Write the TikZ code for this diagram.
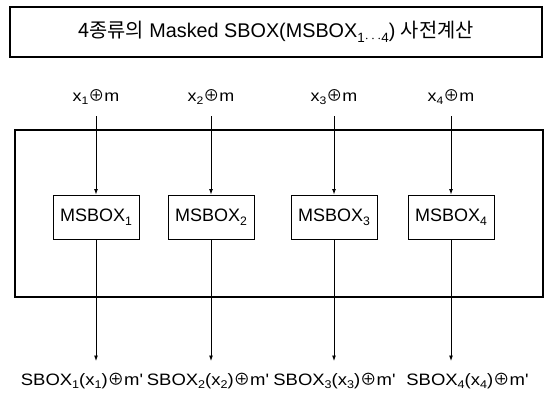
\documentclass[tikz,border=0pt]{standalone}
\usepackage{fontspec}
\usepackage{graphicx}
\setmainfont{Liberation Sans}
\newfontfamily\widefont[FakeStretch=1.12]{Liberation Sans}
\newfontfamily\krfont{Noto Sans CJK KR}
\usetikzlibrary{arrows.meta}

% full-width circled plus and lowered indices
\newcommand\oplusch{{\krfont ⊕}}
\newcommand\lowidx[1]{\raisebox{-0.45ex}{\scalebox{0.68}{#1}}}

\tikzset{
  frame/.style={draw, line width=1.1pt, inner sep=0pt},
  msbox/.style={draw, line width=1pt, minimum width=86pt, minimum height=44pt,
                inner sep=0pt, font=\fontsize{18}{21}\selectfont},
  inlabel/.style={font=\widefont\fontsize{16}{19}\selectfont, inner xsep=0pt,
                  inner ysep=0pt, text height=12pt, text depth=15pt},
  outlabel/.style={font=\widefont\fontsize{16.5}{19}\selectfont, inner sep=0pt,
                   text height=12pt, text depth=4pt},
  arr/.style={-{Latex[length=5.5pt,width=4pt]}, line width=0.9pt}
}

\begin{document}
\begin{tikzpicture}[x=1pt,y=1pt]
  \useasboundingbox (0,0) rectangle (546,-397);

  % heading box
  \node[frame, minimum width=532pt, minimum height=50pt,
        font=\fontsize{19.8}{23}\selectfont] (title) at (276,-32)
    {{\krfont 4종류의} Masked SBOX(MSBOX\lowidx{1$\cdots$4}) {\krfont 사전계산}};

  % enclosing frame of the four masked boxes
  \node[frame, minimum width=528pt, minimum height=167pt] (precomp) at (279,-213.5) {};

  % masked S-boxes
  \node[msbox] (mb1) at (96,-217)  {MSBOX\lowidx{1}};
  \node[msbox] (mb2) at (211,-217) {MSBOX\lowidx{2}};
  \node[msbox] (mb3) at (334,-217) {MSBOX\lowidx{3}};
  \node[msbox] (mb4) at (451,-217) {MSBOX\lowidx{4}};

  % masked inputs (text depth leaves the gap above each arrow)
  \node[inlabel, anchor=base] (in1) at (96,-101)  {x\lowidx{1}\oplusch m};
  \node[inlabel, anchor=base] (in2) at (211,-101) {x\lowidx{2}\oplusch m};
  \node[inlabel, anchor=base] (in3) at (334,-101) {x\lowidx{3}\oplusch m};
  \node[inlabel, anchor=base] (in4) at (451,-101) {x\lowidx{4}\oplusch m};

  \foreach \i in {1,...,4} \draw[arr] (in\i.south) -- (mb\i.north);

  % output arrow ends
  \coordinate (e1) at (96,-361);
  \coordinate (e2) at (211,-361);
  \coordinate (e3) at (334,-361);
  \coordinate (e4) at (451,-361);
  \foreach \i in {1,...,4} \draw[arr] (mb\i.south) -- (e\i);

  % masked outputs
  \node[outlabel, anchor=base] (out1) at (82,-385)    {SBOX\lowidx{1}(x\lowidx{1})\oplusch m'};
  \node[outlabel, anchor=base] (out2) at (208,-385)   {SBOX\lowidx{2}(x\lowidx{2})\oplusch m'};
  \node[outlabel, anchor=base] (out3) at (334.5,-385) {SBOX\lowidx{3}(x\lowidx{3})\oplusch m'};
  \node[outlabel, anchor=base] (out4) at (467.5,-385) {SBOX\lowidx{4}(x\lowidx{4})\oplusch m'};
\end{tikzpicture}
\end{document}
